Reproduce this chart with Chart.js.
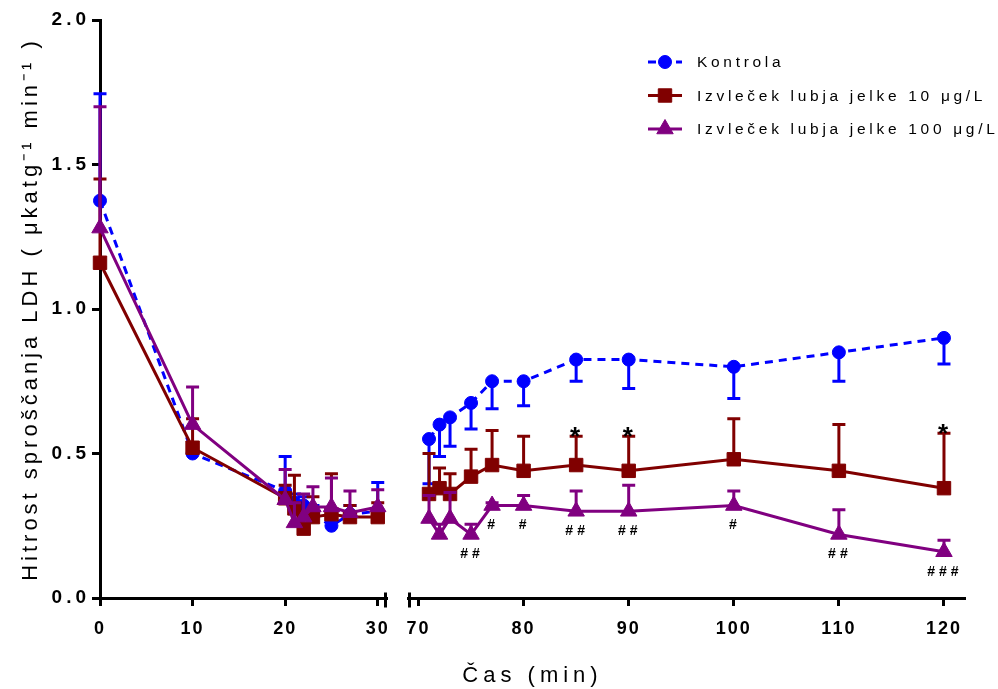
<!DOCTYPE html>
<html>
<head>
<meta charset="utf-8">
<script src="https://cdn.jsdelivr.net/npm/chart.js@4/dist/chart.umd.min.js"></script>
<style>
html,body{margin:0;padding:0;background:#fff;}
#wrap{width:998px;height:689px;position:relative;}
</style>
</head>
<body>
<div id="wrap"><canvas id="c" width="998" height="689"></canvas></div>
<script>
// ---------- data ----------
const seriesNames = ['Kontrola', 'Izvleček lubja jelke 10 μg/L', 'Izvleček lubja jelke 100 μg/L'];
const timesEarly = [0, 10, 20, 21, 22, 23, 25, 27, 30];
const timesLate = [71, 72, 73, 75, 77, 80, 85, 90, 100, 110, 120];

const kontrolaEarly    = [1.375, 0.50, 0.37, 0.33, 0.32, 0.29, 0.25, 0.29, 0.30];
const kontrolaEarlyErr = [0.37, 0.02, 0.12, 0.03, 0.03, 0.03, 0.03, 0.03, 0.10];
const kontrolaLate     = [0.55, 0.60, 0.625, 0.675, 0.75, 0.75, 0.825, 0.825, 0.80, 0.85, 0.90];
const kontrolaLateErr  = [0.155, 0.11, 0.10, 0.09, 0.095, 0.085, 0.075, 0.10, 0.11, 0.10, 0.09];

const jelka10Early    = [1.16, 0.52, 0.345, 0.31, 0.24, 0.28, 0.29, 0.28, 0.28];
const jelka10EarlyErr = [0.29, 0.10, 0.045, 0.115, 0.05, 0.07, 0.14, 0.04, 0.05];
const jelka10Late     = [0.36, 0.38, 0.36, 0.42, 0.46, 0.44, 0.46, 0.44, 0.48, 0.44, 0.38];
const jelka10LateErr  = [0.14, 0.07, 0.07, 0.095, 0.12, 0.12, 0.10, 0.12, 0.14, 0.16, 0.19];

const jelka100Early    = [1.28, 0.60, 0.34, 0.26, 0.28, 0.315, 0.315, 0.295, 0.315];
const jelka100EarlyErr = [0.42, 0.13, 0.105, 0.07, 0.08, 0.07, 0.10, 0.075, 0.06];
const jelka100Late     = [0.275, 0.22, 0.275, 0.22, 0.32, 0.32, 0.30, 0.30, 0.32, 0.22, 0.16];
const jelka100LateErr  = [0.08, 0.035, 0.09, 0.035, 0.01, 0.035, 0.07, 0.09, 0.05, 0.085, 0.04];

const yTicks = [0, 0.5, 1.0, 1.5, 2.0];
const xTicksEarly = [0, 10, 20, 30];
const xTicksLate = [70, 80, 90, 100, 110, 120];

const starTimes = [85, 90, 120];
const hashTimes = [75, 77, 80, 85, 90, 100, 110, 120];
const hashLabels = ['##', '#', '#', '##', '##', '#', '##', '###'];

const xTitle = 'Čas (min)';
const yTitle = 'Hitrost sproščanja LDH ( μkatg⁻¹ min⁻¹ )';

// ---------- styles ----------
const FONT = "'Liberation Sans', Arial, sans-serif";
const styles = [
  {color: '#0000FF', pointStyle: 'circle', radius: 6.5, dash: [8, 6]},
  {color: '#800000', pointStyle: 'rect', radius: 9.5, dash: []},
  {color: '#800080', pointStyle: 'triangle', radius: 9.5, dash: []}
];
const textSpacing = {y: {labels: 4, title: 4}, x1: {labels: 2}, x2: {labels: 2}, title: 5};

function makeDataset(s, times, vals, errs, axisId, errDir) {
  const st = styles[s];
  return {
    label: seriesNames[s],
    data: times.map((t, i) => ({x: t, y: vals[i]})),
    errors: errs,
    errDir: errDir,
    xAxisID: axisId,
    yAxisID: 'y',
    borderColor: st.color,
    backgroundColor: st.color,
    borderWidth: 3,
    borderDash: st.dash,
    pointStyle: st.pointStyle,
    pointRadius: st.radius,
    pointHoverRadius: st.radius,
    pointBorderWidth: 1,
    pointBackgroundColor: st.color,
    pointBorderColor: st.color,
    tension: 0,
    clip: false,
    order: 3 - s
  };
}

const datasets = [
  makeDataset(0, timesEarly, kontrolaEarly, kontrolaEarlyErr, 'x1', 1),
  makeDataset(0, timesLate, kontrolaLate, kontrolaLateErr, 'x2', -1),
  makeDataset(1, timesEarly, jelka10Early, jelka10EarlyErr, 'x1', 1),
  makeDataset(1, timesLate, jelka10Late, jelka10LateErr, 'x2', 1),
  makeDataset(2, timesEarly, jelka100Early, jelka100EarlyErr, 'x1', 1),
  makeDataset(2, timesLate, jelka100Late, jelka100LateErr, 'x2', 1)
];

// ---------- plugins ----------
function withSpacing(ctx, px, fn) {
  const prev = ctx.letterSpacing;
  ctx.letterSpacing = px + 'px';
  try { fn(); } finally { ctx.letterSpacing = prev || '0px'; }
}

const spacingPlugin = {
  id: 'spacingPlugin',
  beforeDraw(chart) {
    Object.values(chart.scales).forEach(sc => {
      if (sc.__sp) return;
      sc.__sp = true;
      const sp = textSpacing[sc.id] || {};
      const dl = sc.drawLabels, dt = sc.drawTitle;
      sc.drawLabels = function (a) { withSpacing(this.ctx, sp.labels || 0, () => dl.call(this, a)); };
      sc.drawTitle = function () { withSpacing(this.ctx, sp.title || 0, () => dt.call(this)); };
    });
    const tb = chart.titleBlock;
    if (tb && !tb.__sp) {
      tb.__sp = true;
      const d = tb.draw;
      tb.draw = function (...a) { withSpacing(this.ctx, textSpacing.title, () => d.apply(this, a)); };
    }
  }
};

const errorBarPlugin = {
  id: 'errorBars',
  beforeDatasetDraw(chart, args) {
    const ds = chart.data.datasets[args.index];
    if (!ds.errors) return;
    const ys = chart.scales.y;
    const ctx = chart.ctx;
    ctx.save();
    ctx.strokeStyle = ds.borderColor;
    ctx.lineWidth = 3;
    ctx.setLineDash([]);
    args.meta.data.forEach((pt, i) => {
      const v = ds.data[i].y;
      const e = ds.errors[i];
      const yEnd = ys.getPixelForValue(v + ds.errDir * e);
      ctx.beginPath();
      ctx.moveTo(pt.x, pt.y);
      ctx.lineTo(pt.x, yEnd);
      ctx.moveTo(pt.x - 6.5, yEnd);
      ctx.lineTo(pt.x + 6.5, yEnd);
      ctx.stroke();
    });
    ctx.restore();
  }
};

function drawMarker(ctx, st, x, y) {
  ctx.save();
  ctx.fillStyle = st.color;
  ctx.strokeStyle = st.color;
  ctx.lineWidth = 1;
  ctx.setLineDash([]);
  ctx.beginPath();
  const r = st.radius;
  if (st.pointStyle === 'circle') {
    ctx.arc(x, y, r, 0, Math.PI * 2);
  } else if (st.pointStyle === 'rect') {
    const s = r * Math.SQRT1_2;
    ctx.rect(x - s, y - s, 2 * s, 2 * s);
  } else {
    ctx.moveTo(x, y - r);
    ctx.lineTo(x + r * Math.cos(Math.PI / 6), y + r / 2);
    ctx.lineTo(x - r * Math.cos(Math.PI / 6), y + r / 2);
    ctx.closePath();
  }
  ctx.fill();
  ctx.stroke();
  ctx.restore();
}

const decorPlugin = {
  id: 'decor',
  afterDatasetsDraw(chart) {
    const ctx = chart.ctx, xs = chart.scales.x2, ys = chart.scales.y;
    ctx.save();
    ctx.fillStyle = '#000';
    ctx.textAlign = 'center';
    ctx.font = 'bold 26px ' + FONT;
    ctx.textBaseline = 'alphabetic';
    starTimes.forEach(t => {
      const i = timesLate.indexOf(t);
      const y = ys.getPixelForValue(jelka10Late[i] + jelka10LateErr[i]);
      ctx.fillText('*', xs.getPixelForValue(t) - 1, y + 9);
    });
    ctx.font = 'bold 14px ' + FONT;
    ctx.textBaseline = 'middle';
    hashTimes.forEach((t, k) => {
      const i = timesLate.indexOf(t);
      const y = ys.getPixelForValue(jelka100Late[i]);
      withSpacing(ctx, 4, () => ctx.fillText(hashLabels[k], xs.getPixelForValue(t) + 1, y + 20));
    });
    ctx.restore();
  },
  afterDraw(chart) {
    const ctx = chart.ctx;
    // axis break end caps
    const x1 = chart.scales.x1, x2 = chart.scales.x2;
    const yAxis = chart.chartArea.bottom + 1.5;
    ctx.save();
    ctx.strokeStyle = '#000';
    ctx.lineWidth = 3;
    ctx.beginPath();
    ctx.moveTo(x1.right - 1.5, yAxis - 7); ctx.lineTo(x1.right - 1.5, yAxis + 8);
    ctx.moveTo(x2.left + 1.5, yAxis - 7); ctx.lineTo(x2.left + 1.5, yAxis + 8);
    ctx.stroke();
    ctx.restore();

    // legend
    const legendX = 648, legendY = 62, legendGap = 33.5;
    seriesNames.forEach((name, i) => {
      const st = styles[i];
      const y = legendY + i * legendGap;
      ctx.save();
      ctx.strokeStyle = st.color;
      ctx.lineWidth = 3;
      ctx.setLineDash(st.dash);
      ctx.beginPath();
      ctx.moveTo(legendX, y);
      ctx.lineTo(legendX + 34, y);
      ctx.stroke();
      ctx.restore();
      drawMarker(ctx, st, legendX + 17, y);
      ctx.save();
      ctx.fillStyle = '#000';
      ctx.font = '15.5px ' + FONT;
      ctx.textAlign = 'left';
      ctx.textBaseline = 'middle';
      withSpacing(ctx, 3.7, () => ctx.fillText(name, legendX + 49, y + 1));
      ctx.restore();
    });
  }
};

// ---------- chart ----------
const axisGrid = {display: true, drawOnChartArea: false, drawTicks: true, tickLength: 8, tickWidth: 3, tickColor: '#000'};
const axisBorder = {display: true, width: 3, color: '#000'};
const xTickFont = {family: "'Liberation Sans Narrow', 'Liberation Sans', Arial, sans-serif", size: 18, weight: 'bold'};
const X_AXIS_H = 64.6;

new Chart(document.getElementById('c'), {
  type: 'line',
  data: {datasets: datasets},
  options: {
    responsive: false,
    animation: false,
    devicePixelRatio: 1,
    layout: {padding: {top: 20, right: 33, bottom: 0, left: 0}},
    plugins: {
      legend: {display: false},
      tooltip: {enabled: false},
      title: {
        display: true, text: xTitle, position: 'bottom', fullSize: false,
        color: '#000', font: {family: FONT, size: 22, weight: 'normal', lineHeight: 1.2},
        padding: {top: 0, bottom: 0}
      }
    },
    scales: {
      x1: {
        type: 'linear', position: 'bottom', axis: 'x', stack: 'xs', stackWeight: 287,
        min: 0, max: 31,
        grid: axisGrid, border: axisBorder,
        ticks: {color: '#000', font: xTickFont, padding: 12, maxRotation: 0, autoSkip: false, includeBounds: false, callback: v => String(v)},
        afterBuildTicks: sc => { sc.ticks = xTicksEarly.map(v => ({value: v})); },
        afterFit: sc => { sc.height = X_AXIS_H; }
      },
      xgap: {
        type: 'linear', position: 'bottom', axis: 'x', stack: 'xs', stackWeight: 21,
        min: 0, max: 1,
        grid: {display: false}, border: {display: false},
        ticks: {display: false},
        afterFit: sc => { sc.height = X_AXIS_H; }
      },
      x2: {
        type: 'linear', position: 'bottom', axis: 'x', stack: 'xs', stackWeight: 557,
        min: 69, max: 122,
        grid: axisGrid, border: axisBorder,
        ticks: {color: '#000', font: xTickFont, padding: 12, maxRotation: 0, autoSkip: false, includeBounds: false, callback: v => String(v)},
        afterBuildTicks: sc => { sc.ticks = xTicksLate.map(v => ({value: v})); },
        afterFit: sc => { sc.height = X_AXIS_H; }
      },
      y: {
        type: 'linear', position: 'left', min: 0, max: 2,
        grid: axisGrid, border: axisBorder,
        ticks: {color: '#000', font: {family: FONT, size: 19, weight: 'bold'}, padding: 2, includeBounds: false,
                callback: v => Number(v).toFixed(1)},
        afterBuildTicks: sc => { sc.ticks = yTicks.map(v => ({value: v})); },
        title: {display: true, text: yTitle, color: '#000',
                font: {family: FONT, size: 22, weight: 'normal', lineHeight: 1.2},
                padding: {top: 18, bottom: 0}},
        afterFit: sc => { sc.width = 100; }
      }
    }
  },
  plugins: [spacingPlugin, errorBarPlugin, decorPlugin]
});
</script>
</body>
</html>
